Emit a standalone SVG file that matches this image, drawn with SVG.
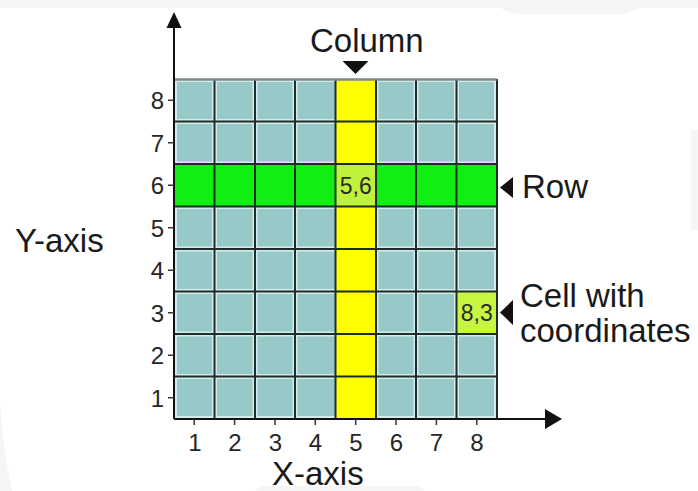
<svg xmlns="http://www.w3.org/2000/svg" width="698" height="491" viewBox="0 0 698 491">
  <style>
    text { font-family: "Liberation Sans", Arial, sans-serif; fill: #1a1a1a; }
    .lbl { font-size: 33px; }
    .num { font-size: 24px; fill: #262626; }
    .cellnum { font-size: 23px; fill: #2a2a2a; text-anchor: middle; }
    .dark { stroke: #1e2c2c; stroke-width: 2; fill: none; }
    .light { stroke: #d4ecec; stroke-width: 5; fill: none; }
    .axis { stroke: #111; stroke-width: 2; fill: none; }
    .tick { stroke: #333; stroke-width: 1.5; }
    .ptr { fill: #111; }
    .bg { fill: #f5f5f5; }
  </style>
  <rect width="698" height="491" fill="#ffffff"/>
  <g id="background">
    <path class="bg" d="M0,0 H698 V8 H640 L625,14 H515 L500,8 H0 Z"/>
    <rect class="bg" x="691" y="130" width="7" height="100"/>
    <path class="bg" d="M0,330 Q-4,420 12,491 H0 Z"/>
    <path class="bg" d="M255,491 L262,486 H418 L425,491 Z"/>
  </g>
  <g id="grid">
    <rect x="174" y="79" width="323" height="340" fill="#98c9c9"/>
    <rect x="175.5" y="80.5" width="320" height="337" fill="none" stroke="#d4ecec" stroke-width="3"/>
    <path class="light" d="M214.5,79V419 M255,79V419 M295,79V419 M376,79V419 M416,79V419 M456.5,79V419 M174,121.5H497 M174,164H497 M174,206.5H497 M174,249H497 M174,291.5H497 M174,334H497 M174,376.5H497"/>
    <rect id="column5" x="335.5" y="79" width="40.5" height="340" fill="#ffff00"/>
    <rect id="row6" x="174" y="164" width="323" height="42.5" fill="#11ee11"/>
    <g id="cell-5-6">
      <rect x="335.5" y="164" width="40.5" height="42.5" fill="#bff23c"/>
      <text class="cellnum" x="355.7" y="193.5">5,6</text>
    </g>
    <g id="cell-8-3">
      <rect x="456.5" y="291.5" width="40.5" height="42.5" fill="#c6f542"/>
      <text class="cellnum" x="476.8" y="321">8,3</text>
    </g>
    <path class="dark" d="M214.5,79V419 M255,79V419 M295,79V419 M335.5,79V419 M376,79V419 M416,79V419 M456.5,79V419 M497,79V419 M174,121.5H497 M174,164H497 M174,206.5H497 M174,249H497 M174,291.5H497 M174,334H497 M174,376.5H497"/>
    <path d="M174,79.5H497" stroke="#7d8d8d" stroke-width="2.5" fill="none"/>
  </g>
  <g id="connectors">
    <path class="axis" d="M174,419V26"/>
    <polygon class="ptr" points="174,12 181.5,28 166.5,28"/>
    <path class="axis" d="M174,419H547"/>
    <polygon class="ptr" points="562,419 545,409 545,429"/>
    <path class="tick" d="M168,100.25H174 M168,142.75H174 M168,185.25H174 M168,227.75H174 M168,270.25H174 M168,312.75H174 M168,355.25H174 M168,397.75H174"/>
    <path class="tick" d="M194.2,419V425 M234.6,419V425 M275,419V425 M315.3,419V425 M355.7,419V425 M396,419V425 M436.4,419V425 M476.8,419V425"/>
    <polygon id="ptr-column" class="ptr" points="342.5,61 368.5,61 355.5,74"/>
    <polygon id="ptr-row" class="ptr" points="513,177 513,198 500,187.5"/>
    <polygon id="ptr-cell" class="ptr" points="513,300 513,325 500,312.5"/>
  </g>
  <g id="y-labels">
    <text class="num" x="164" y="109" text-anchor="end">8</text>
    <text class="num" x="164" y="151.5" text-anchor="end">7</text>
    <text class="num" x="164" y="194" text-anchor="end">6</text>
    <text class="num" x="164" y="236.5" text-anchor="end">5</text>
    <text class="num" x="164" y="279" text-anchor="end">4</text>
    <text class="num" x="164" y="321.5" text-anchor="end">3</text>
    <text class="num" x="164" y="364" text-anchor="end">2</text>
    <text class="num" x="164" y="406.5" text-anchor="end">1</text>
  </g>
  <g id="x-labels" text-anchor="middle">
    <text class="num" x="195" y="451">1</text>
    <text class="num" x="235" y="451">2</text>
    <text class="num" x="275.5" y="451">3</text>
    <text class="num" x="315.5" y="451">4</text>
    <text class="num" x="356" y="451">5</text>
    <text class="num" x="396.5" y="451">6</text>
    <text class="num" x="436.5" y="451">7</text>
    <text class="num" x="477" y="451">8</text>
  </g>
  <g id="label-column"><text class="lbl" x="310" y="52">Column</text></g>
  <g id="label-row"><text class="lbl" x="522" y="198">Row</text></g>
  <g id="label-cell">
    <text class="lbl" x="520" y="307">Cell with</text>
    <text class="lbl" x="520" y="342">coordinates</text>
  </g>
  <g id="label-y-axis"><text class="lbl" x="15" y="252">Y-axis</text></g>
  <g id="label-x-axis"><text class="lbl" x="272" y="485" font-size="32">X-axis</text></g>
</svg>
